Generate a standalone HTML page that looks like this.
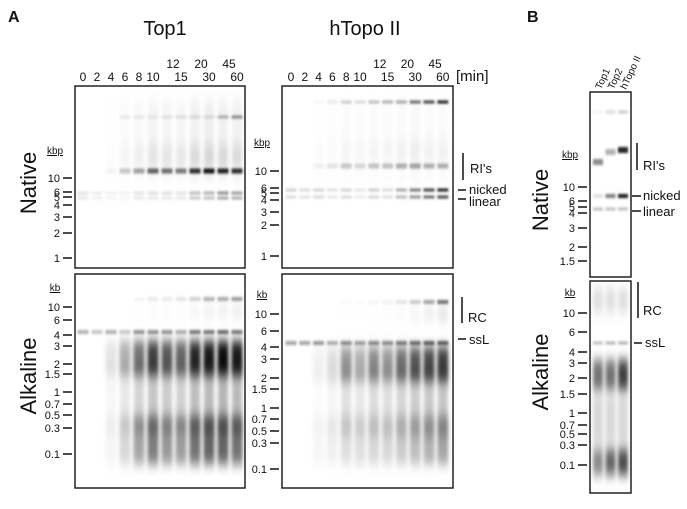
<!DOCTYPE html>
<html><head><meta charset="utf-8"><style>
body{margin:0;background:#fff;width:687px;height:504px;overflow:hidden}
svg{font-family:"Liberation Sans",Arial,sans-serif}
</style></head><body>
<svg id="fig" width="687" height="504" viewBox="0 0 687 504" xmlns="http://www.w3.org/2000/svg">
<defs>
<filter id="bl" x="-100%" y="-300%" width="300%" height="700%"><feGaussianBlur stdDeviation="1 1.3"/></filter>
<filter id="sm" x="-100%" y="-100%" width="300%" height="300%"><feGaussianBlur stdDeviation="1.8 6"/></filter>
</defs>
<g id="marks"></g>
<g id="frames" fill="none" stroke="#222" stroke-width="1.5">
<rect x="75" y="86" width="170" height="182"/>
<rect x="75" y="274" width="170" height="214"/>
<rect x="282" y="86" width="171" height="182"/>
<rect x="282" y="274" width="171" height="214"/>
<rect x="590" y="92" width="41" height="185"/>
<rect x="590" y="281" width="41" height="212"/>
</g>
<g id="text" fill="#111">
<text x="8" y="22" font-size="16" font-weight="bold">A</text>
<text x="527" y="22" font-size="16" font-weight="bold">B</text>
<text x="165" y="35" font-size="20" text-anchor="middle">Top1</text>
<text x="365" y="35" font-size="20" text-anchor="middle">hTopo II</text>
<text transform="translate(36,183) rotate(-90)" font-size="22" text-anchor="middle">Native</text>
<text transform="translate(36,376) rotate(-90)" font-size="22" text-anchor="middle">Alkaline</text>
<text transform="translate(548,200) rotate(-90)" font-size="22" text-anchor="middle">Native</text>
<text transform="translate(548,372) rotate(-90)" font-size="22" text-anchor="middle">Alkaline</text>
<text x="456" y="81" font-size="15">[min]</text>
</g>
<g id="ann" fill="#111" stroke="#111" stroke-width="1.3" font-size="13"></g>
</svg>
<script>
const NS="http://www.w3.org/2000/svg";
const timeLabels=["0","2","4","6","8","10","12","15","20","30","45","60"];
const top1NatTop=[0,0,0,.08,.08,.08,.1,.12,.12,.12,.3,.45];
const top1NatRI=[0,0,.04,.2,.35,.6,.55,.5,.8,.9,.85,.8];
const top1NatNick=[.12,.08,.06,.05,.12,.12,.12,.12,.28,.32,.45,.4];
const top1AlkRC=[0,0,0,0,.04,.08,.08,.1,.18,.3,.32,.38];
const top1AlkSsl=[.3,.22,.3,.2,.4,.4,.4,.3,.5,.5,.55,.5];
const top1AlkSmear=[0,0,.1,.3,.55,.75,.65,.6,.85,.9,.95,.9];
const top1AlkLow=[0,0,.04,.15,.35,.5,.4,.38,.55,.6,.6,.55];
const htNatTop=[0,0,.03,.08,.2,.15,.25,.3,.35,.6,.75,.9];
const htNatRI=[0,0,.05,.1,.2,.15,.22,.22,.3,.35,.3,.3];
const htNatNick=[.18,.15,.18,.12,.18,.1,.2,.15,.35,.55,.75,.9];
const htAlkRC=[0,0,0,0,.02,.02,.04,.05,.1,.2,.35,.55];
const htAlkSsl=[.35,.35,.4,.3,.4,.35,.4,.4,.45,.5,.55,.55];
const htAlkSmear=[0,0,.05,.12,.4,.3,.45,.4,.55,.65,.7,.75];
const htAlkLow=[0,0,.03,.06,.12,.12,.15,.15,.2,.25,.3,.35];
const bLabels=["Top1","Top2","hTopo II"];
const bNatTop=[.05,.15,.2];
const bNatRI=[.45,.3,.85];
const bNatNick=[.12,.5,.9];
const bNatLin=[.25,.25,.25];
const bAlkSsl=[.25,.3,.3];
const bAlkSmear=[.55,.55,.75];
const bAlkLow=[.45,.6,.7];
const top1NatTicks=["10","6","5","4","3","2","1"], top1NatTickY=[178,192,197,205,217,233,258];
const top1AlkTicks=["10","6","4","3","2","1.5","1","0.7","0.5","0.3","0.1"];
const top1AlkTickY=[307,320,335,346,364,374,392,404,415,428,454];
const htNatTickY=[171,188,193,200,212,225,256];
const htAlkTickY=[314,331,347,359,378,389,408,419,431,443,469];
const bNatTicks=["10","6","5","4","3","2","1.5"], bNatTickY=[187,201,207,213,228,247,261];
const bAlkTickY=[313,332,352,363,378,394,413,425,434,445,465];

const M=document.getElementById('marks'),T=document.getElementById('text'),A=document.getElementById('ann');
function laneX(x0,step,i){return x0+step*i;}
function band(cx,y,h,w,v,f){if(v<=0)return;const r=document.createElementNS(NS,'rect');
r.setAttribute('x',cx-w/2);r.setAttribute('y',y-h/2);r.setAttribute('width',w);r.setAttribute('height',h);
r.setAttribute('fill','#000');r.setAttribute('fill-opacity',Math.min(1,v));r.setAttribute('filter','url(#'+f+')');


M.appendChild(r);}
function txt(x,y,s,size,anchor,name,parent){const t=document.createElementNS(NS,'text');t.setAttribute('x',x);t.setAttribute('y',y);
t.setAttribute('font-size',size);t.setAttribute('text-anchor',anchor);t.textContent=s;


(parent||T).appendChild(t);return t;}
function line(x1,y1,x2,y2,name){const l=document.createElementNS(NS,'line');l.setAttribute('x1',x1);l.setAttribute('y1',y1);l.setAttribute('x2',x2);l.setAttribute('y2',y2);
l.setAttribute('stroke','#111');l.setAttribute('stroke-width','1.5');


A.appendChild(l);}
function ticks(labels,ys,tx,unit,uy,name){labels.forEach((s,i)=>{txt(tx-3,ys[i]+4,s,11,'end',name+'-tick-label');line(tx,ys[i],tx+9,ys[i],name+'-tick');});
const u=txt(tx-8,uy,unit,10,'middle',name+'-unit');u.setAttribute('text-decoration','underline');}

function gelA(x0,step,nat,alk){
 timeLabels.forEach((s,i)=>{const cx=laneX(x0,step,i);
  band(cx,140,80,10,nat[1][i]*0.07,'sm');
  band(cx,nat.y[0],3,11,nat[0][i],'bl');
  band(cx,nat.y[1],5,11,nat[1][i],'bl');
  band(cx,nat.y[1]-15,22,10,nat[1][i]*0.12,'sm');
  band(cx,nat.y[2],3,11,nat[2][i],'bl');
  band(cx,nat.y[3],3,11,nat[2][i]*0.8,'bl');
  band(cx,alk.y[0],4,11,alk[0][i],'bl');
  band(cx,alk.y[0]+12,14,10,alk[0][i]*0.2,'sm');
  band(cx,alk.y[1],4,11,alk[1][i],'bl');
  band(cx,alk.y[2],34,11,alk[2][i],'sm');
  band(cx,(alk.y[2]+alk.y[3])/2,70,10,alk[2][i]*0.3,'sm');
  band(cx,alk.y[3],48,11,alk[3][i],'sm');
 });}
gelA(83,14,Object.assign([top1NatTop,top1NatRI,top1NatNick],{y:[117,171,193,198]}),
 Object.assign([top1AlkRC,top1AlkSsl,top1AlkSmear,top1AlkLow],{y:[299,332,358,440]}));
gelA(291,13.8,Object.assign([htNatTop,htNatRI,htNatNick],{y:[102,166,190,197]}),
 Object.assign([htAlkRC,htAlkSsl,htAlkSmear,htAlkLow],{y:[302,343,364,440]}));

bLabels.forEach((s,i)=>{const cx=laneX(598,12.5,i);
 band(cx,112,3,10,bNatTop[i],'bl');
 band(cx,[162,152,150][i],6,10,bNatRI[i],'bl');
 band(cx,196,4,10,bNatNick[i],'bl');
 band(cx,209,3,10,bNatLin[i],'bl');
 band(cx,300,25,10,.12,'sm');
 band(cx,343,3,10,bAlkSsl[i],'bl');
 band(cx,375,30,10,bAlkSmear[i],'sm');
 band(cx,420,50,10,.15,'sm');
 band(cx,462,26,10,bAlkLow[i],'sm');
 const t=txt(0,0,s,10,'start','lane-label-'+i);t.setAttribute('transform','translate('+(cx+3)+',90) rotate(-65)');
});

[[83,14],[291,13.8]].forEach(([x0,st],g)=>timeLabels.forEach((s,i)=>{
 const yy=(i>=6&&i%2==0)?68:81;
 txt(laneX(x0,st,i)+(i>=6?(i%2==0?6:0):0),yy,s,12,'middle','time-label');}));

ticks(top1NatTicks,top1NatTickY,63,'kbp',154,'top1-native');
ticks(top1AlkTicks,top1AlkTickY,63,'kb',291,'top1-alkaline');
ticks(top1NatTicks,htNatTickY,270,'kbp',146,'htopo-native');
ticks(top1AlkTicks,htAlkTickY,270,'kb',298,'htopo-alkaline');
ticks(bNatTicks,bNatTickY,578,'kbp',158,'b-native');
ticks(top1AlkTicks,bAlkTickY,578,'kb',296,'b-alkaline');

line(463,153,463,180,'ri-bracket');txt(470,173,"RI's",13,'start','ri-label',A);
line(458,190,466,190,'nicked-dash');txt(469,194,'nicked',13,'start','nicked-label',A);
line(458,199,466,199,'linear-dash');txt(469,206,'linear',13,'start','linear-label',A);
line(462,297,462,323,'rc-bracket');txt(468,322,'RC',13,'start','rc-label',A);
line(458,339,466,339,'ssl-dash');txt(469,344,'ssL',13,'start','ssl-label',A);
line(637,143,637,170,'b-ri-bracket');txt(643,170,"RI's",13,'start','b-ri-label',A);
line(632,196,641,196,'b-nicked-dash');txt(643,200,'nicked',13,'start','b-nicked-label',A);
line(632,211,641,211,'b-linear-dash');txt(643,216,'linear',13,'start','b-linear-label',A);
line(638,282,638,318,'b-rc-bracket');txt(643,315,'RC',13,'start','b-rc-label',A);
line(634,343,642,343,'b-ssl-dash');txt(645,347,'ssL',13,'start','b-ssl-label',A);
A.querySelectorAll('text').forEach(t=>t.setAttribute('stroke','none'));
</script>
</body></html>
